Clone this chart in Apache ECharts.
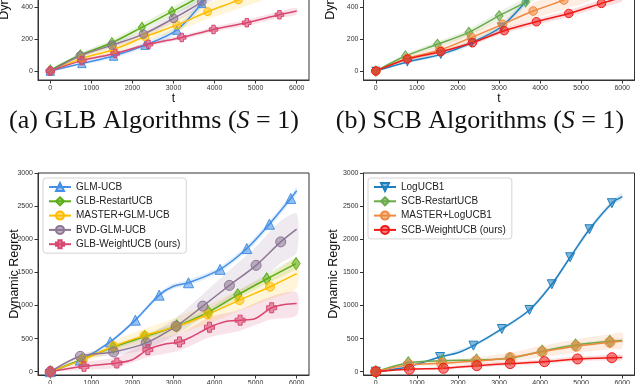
<!DOCTYPE html>
<html>
<head>
<meta charset="utf-8">
<script src="https://cdn.jsdelivr.net/npm/echarts@6/dist/echarts.min.js"></script>
<style>
  html, body { margin: 0; padding: 0; background: #fff; }
  #chart { width: 636px; height: 384px; }
</style>
</head>
<body>
<div id="chart"></div>
<script>
// ---- tick labels ----
const tTicks = [0, 1000, 2000, 3000, 4000, 5000, 6000];
const topYTicks = [0, 200, 400, 600, 800, 1000, 1200];
const botYTicks = [0, 500, 1000, 1500, 2000, 2500, 3000];

const glbNames = ["GLM-UCB", "GLB-RestartUCB", "MASTER+GLM-UCB", "BVD-GLM-UCB", "GLB-WeightUCB (ours)"];
const scbNames = ["LogUCB1", "SCB-RestartUCB", "MASTER+LogUCB1", "SCB-WeightUCB (ours)"];

// ---- (a) GLB, top row: markers [t, regret], extra curve points, band [t, lo, hi] ----
const aGlm = [[0, 0], [770, 48], [1540, 94], [2310, 162], [3080, 256], [3690, 423]];
const aGlmPath = [[4100, 560]];
const aGlmBand = [[0, 0, 0], [770, 38, 58], [1540, 80, 108], [2310, 145, 180], [3080, 232, 280], [3690, 395, 450], [4100, 525, 595]];
const aRestart = [[0, 6], [730, 100], [1500, 177], [2230, 273], [2960, 371]];
const aRestartPath = [[3490, 444], [4000, 530]];
const aRestartBand = [[0, 0, 10], [730, 85, 115], [1500, 158, 196], [2230, 250, 296], [2960, 345, 397], [3490, 415, 473], [4000, 498, 562]];
const aMaster = [[0, 0], [770, 79], [1540, 135], [2310, 215], [3080, 287], [3830, 371], [4580, 444]];
const aMasterPath = [[5300, 530]];
const aMasterBand = [[0, 0, 0], [770, 62, 96], [1540, 110, 160], [2310, 185, 245], [3080, 250, 325], [3830, 325, 420], [4580, 390, 500], [5300, 465, 595]];
const aBvd = [[0, 0], [730, 96], [1500, 162], [2270, 231], [3000, 329], [3690, 433]];
const aBvdPath = [[4200, 530]];
const aBvdBand = [[0, 0, 0], [730, 84, 108], [1500, 145, 180], [2270, 210, 252], [3000, 302, 356], [3690, 400, 466], [4200, 490, 570]];
const aWeight = [[0, 0], [770, 65], [1580, 110], [2390, 167], [3200, 210], [3975, 260], [4785, 302], [5580, 352]];
const aWeightPath = [[6000, 375]];
const aWeightBand = [[0, 0, 0], [770, 58, 72], [1580, 100, 120], [2390, 155, 179], [3200, 196, 224], [3975, 244, 276], [4785, 284, 320], [5580, 332, 372], [6000, 354, 396]];

// ---- (b) SCB, top row ----
const bLog = [[0, 0], [770, 57], [1583, 104], [2330, 177], [3060, 277], [3670, 440]];
const bLogPath = [[4000, 545]];
const bLogBand = [[0, 0, 0], [770, 48, 66], [1583, 92, 116], [2330, 162, 192], [3060, 258, 296], [3670, 415, 465], [4000, 515, 575]];
const bRestart = [[0, 0], [722, 94], [1500, 167], [2265, 242], [3004, 346], [3650, 432]];
const bRestartPath = [[4100, 525]];
const bRestartBand = [[0, 0, 0], [722, 82, 106], [1500, 150, 184], [2265, 222, 262], [3004, 322, 370], [3650, 405, 460], [4100, 495, 555]];
const bMaster = [[0, 0], [770, 79], [1560, 131], [2330, 210], [3084, 292], [3832, 375], [4580, 444]];
const bMasterPath = [[5300, 525]];
const bMasterBand = [[0, 0, 0], [770, 64, 94], [1560, 108, 156], [2330, 180, 242], [3084, 255, 330], [3832, 325, 425], [4580, 385, 505], [5300, 455, 600]];
const bWeight = [[0, 0], [770, 75], [1583, 121], [2353, 177], [3126, 252], [3912, 308], [4700, 360], [5495, 423]];
const bWeightPath = [[6000, 462]];
const bWeightBand = [[0, 0, 0], [770, 66, 84], [1583, 110, 132], [2353, 164, 190], [3126, 236, 268], [3912, 290, 326], [4700, 340, 380], [5495, 400, 446], [6000, 437, 487]];

// ---- (c) GLB, bottom row ----
const cGlm = [[0, 0], [730, 175], [1460, 450], [2070, 778], [2650, 1156], [3365, 1343], [4135, 1545], [4785, 1859], [5335, 2227], [5855, 2616]];
const cGlmPath = [[3000, 1290], [6000, 2732]];
const cGlmBand = [[0, 0, 0], [730, 160, 190], [1460, 425, 475], [2070, 750, 810], [2650, 1120, 1192], [3000, 1250, 1330], [3365, 1300, 1385], [4135, 1500, 1590], [4785, 1810, 1910], [5335, 2175, 2280], [5855, 2560, 2672], [6000, 2675, 2790]];
const cRestart = [[0, 0], [765, 185], [1530, 370], [2300, 530], [3080, 690], [3850, 900], [4565, 1160], [5270, 1400], [5985, 1632]];
const cRestartPath = [];
const cRestartBand = [[0, 0, 0], [765, 165, 205], [1530, 340, 400], [2300, 495, 570], [3080, 650, 735], [3850, 850, 950], [4565, 1100, 1220], [5270, 1330, 1470], [6000, 1560, 1720]];
const cMaster = [[0, 0], [795, 182], [1540, 384], [2295, 545], [3065, 680], [3835, 864], [4606, 1081], [5351, 1283]];
const cMasterPath = [[6000, 1480]];
const cMasterBand = [[0, 0, 0], [795, 140, 230], [1540, 300, 470], [2295, 440, 650], [3065, 560, 820], [3835, 720, 1010], [4606, 920, 1240], [5351, 1090, 1460], [6000, 1260, 1700]];
const cBvd = [[0, 0], [730, 232], [1540, 298], [2335, 435], [3065, 687], [3714, 990], [4362, 1303], [5011, 1606], [5612, 1960]];
const cBvdPath = [[6000, 2152]];
const cBvdBand = [[0, 0, 0], [730, 200, 265], [1540, 240, 360], [2335, 340, 540], [3065, 560, 820], [3714, 820, 1170], [4362, 1080, 1530], [5011, 1320, 1890], [5612, 1640, 2280], [6000, 1800, 2390]];
const cWeight = [[0, 0], [820, 81], [1620, 131], [2375, 333], [3146, 449], [3876, 671], [4622, 778], [5391, 965]];
const cWeightPath = [[2000, 180], [2750, 410], [3450, 530], [4250, 755], [4980, 800], [5700, 1015], [6000, 1030]];
const cWeightBand = [[0, 0, 0], [820, 30, 140], [1620, 60, 220], [2375, 220, 450], [3146, 320, 580], [3876, 520, 820], [4622, 620, 940], [5391, 790, 1140], [6000, 850, 1200]];

// ---- (d) SCB, bottom row ----
const dLog = [[0, 0], [787, 76], [1566, 222], [2378, 393], [3069, 645], [3742, 932], [4287, 1320], [4733, 1728], [5204, 2151], [5749, 2544]];
const dLogPath = [[2000, 285], [6000, 2644]];
const dLogBand = [[0, 0, 0], [787, 66, 86], [1566, 205, 240], [2378, 372, 414], [3069, 620, 670], [3742, 902, 962], [4287, 1285, 1355], [4733, 1690, 1766], [5204, 2110, 2192], [5749, 2500, 2588], [6000, 2598, 2690]];
const dRestart = [[0, 0], [790, 135], [1615, 166], [2451, 177], [3264, 202], [4051, 310], [4863, 403], [5700, 458]];
const dRestartPath = [[6000, 470]];
const dRestartBand = [[0, 0, 0], [790, 120, 150], [1615, 150, 182], [2451, 160, 195], [3264, 184, 222], [4051, 290, 332], [4863, 380, 428], [5700, 432, 486], [6000, 442, 498]];
const dMaster = [[0, 0], [800, 105], [1600, 127], [2440, 161], [3272, 212], [4050, 300], [4880, 385], [5700, 445]];
const dMasterPath = [[6000, 465]];
const dMasterBand = [[0, 0, 0], [800, 80, 130], [1600, 95, 165], [2440, 115, 215], [3272, 150, 285], [4050, 220, 390], [4880, 290, 490], [5700, 335, 565], [6000, 350, 590]];
const dWeight = [[0, 0], [819, 36], [1648, 51], [2460, 91], [3272, 122], [4108, 151], [4912, 192], [5749, 211]];
const dWeightPath = [[6000, 213]];
const dWeightBand = [[0, 0, 0], [819, 22, 50], [1648, 32, 72], [2460, 66, 118], [3272, 94, 152], [4108, 120, 184], [4912, 158, 228], [5749, 172, 252], [6000, 172, 256]];

// ---- styles ----
const SANS = "Liberation Sans";
const SERIF = "Liberation Serif";
const plusPath = "path://M3,0h4v3h3v4h-3v3h-4v-3h-3v-4h3z";
const glbStyle = [
  { color: "#4590e6", symbol: "triangle", size: 10 },
  { color: "#5cae18", symbol: "diamond", size: [8, 12] },
  { color: "#ffbd00", symbol: "circle", size: 9 },
  { color: "#8d7593", symbol: "circle", size: 10 },
  { color: "#d9466f", symbol: plusPath, size: 10 }
];
const scbStyle = [
  { color: "#1f7fbf", symbol: "triangle", size: 9, rotate: 180 },
  { color: "#6aaa4b", symbol: "diamond", size: [9, 12] },
  { color: "#f0883e", symbol: "circle", size: 10 },
  { color: "#ee1a1a", symbol: "circle", size: 10 }
];

const hexA = (hex, a) => {
  const n = parseInt(hex.slice(1), 16);
  return "rgba(" + (n >> 16) + "," + ((n >> 8) & 255) + "," + (n & 255) + "," + a + ")";
};

const series = [];
// 一条曲线 + 置信区间
const addAlgo = (g, name, marks, path, band, st, small) => {
  const pts = marks.map(p => ({ value: p }))
    .concat(path.map(p => ({ value: p, symbol: "none" })))
    .sort((a, b) => a.value[0] - b.value[0]);
  const scale = small ? 0.85 : 1;
  const size = Array.isArray(st.size) ? st.size.map(s => s * scale) : st.size * scale;
  series.push({
    type: "custom",
    xAxisIndex: g,
    yAxisIndex: g,
    data: band,
    encode: { x: 0, y: 1 },
    silent: true,
    z: 1,
    renderItem: (params, api) => {
      if (params.dataIndex !== 0) return null;
      const up = band.map(b => api.coord([b[0], b[2]]));
      const lo = band.map(b => api.coord([b[0], b[1]])).reverse();
      return {
        type: "polygon",
        shape: { points: up.concat(lo), smooth: 0.25 },
        style: { fill: hexA(st.color, 0.15) }
      };
    }
  });
  series.push({
    type: "line",
    name: name,
    xAxisIndex: g,
    yAxisIndex: g,
    data: pts,
    smooth: 0.3,
    symbol: st.symbol,
    symbolSize: size,
    symbolRotate: st.rotate || 0,
    showSymbol: true,
    showAllSymbol: true,
    lineStyle: { color: st.color, width: 1.5 },
    itemStyle: { color: hexA(st.color, 0.55), borderColor: st.color, borderWidth: 1 },
    emphasis: { disabled: true },
    z: 3
  });
};

// bottom panels first so the legend takes their icons
addAlgo(2, glbNames[0], cGlm, cGlmPath, cGlmBand, glbStyle[0]);
addAlgo(2, glbNames[1], cRestart, cRestartPath, cRestartBand, glbStyle[1]);
addAlgo(2, glbNames[2], cMaster, cMasterPath, cMasterBand, glbStyle[2]);
addAlgo(2, glbNames[3], cBvd, cBvdPath, cBvdBand, glbStyle[3]);
addAlgo(2, glbNames[4], cWeight, cWeightPath, cWeightBand, glbStyle[4]);
addAlgo(3, scbNames[0], dLog, dLogPath, dLogBand, scbStyle[0]);
addAlgo(3, scbNames[1], dRestart, dRestartPath, dRestartBand, scbStyle[1]);
addAlgo(3, scbNames[2], dMaster, dMasterPath, dMasterBand, scbStyle[2]);
addAlgo(3, scbNames[3], dWeight, dWeightPath, dWeightBand, scbStyle[3]);
addAlgo(0, glbNames[0], aGlm, aGlmPath, aGlmBand, glbStyle[0], true);
addAlgo(0, glbNames[1], aRestart, aRestartPath, aRestartBand, glbStyle[1], true);
addAlgo(0, glbNames[2], aMaster, aMasterPath, aMasterBand, glbStyle[2], true);
addAlgo(0, glbNames[3], aBvd, aBvdPath, aBvdBand, glbStyle[3], true);
addAlgo(0, glbNames[4], aWeight, aWeightPath, aWeightBand, glbStyle[4], true);
addAlgo(1, scbNames[0], bLog, bLogPath, bLogBand, scbStyle[0], true);
addAlgo(1, scbNames[1], bRestart, bRestartPath, bRestartBand, scbStyle[1], true);
addAlgo(1, scbNames[2], bMaster, bMasterPath, bMasterBand, scbStyle[2], true);
addAlgo(1, scbNames[3], bWeight, bWeightPath, bWeightBand, scbStyle[3], true);

// grids: 0 top-left, 1 top-right (cropped at the top), 2 bottom-left, 3 bottom-right
const grids = [
  { left: 38, top: -131, width: 271, height: 211 },
  { left: 363.5, top: -131, width: 271, height: 211 },
  { left: 38, top: 173, width: 271, height: 202 },
  { left: 363.5, top: 173, width: 271, height: 202 }
];

const plain = v => String(v);

const makeX = (g, top) => ({
  gridIndex: g,
  type: "value",
  min: -300,
  max: 6300,
  name: top ? "t" : "",
  nameLocation: "middle",
  nameGap: 13,
  nameMoveOverlap: false,
  nameTextStyle: { fontFamily: SANS, fontSize: 12, color: "#111" },
  axisLine: { show: true, onZero: false, lineStyle: { color: "#333", width: 1 } },
  axisTick: { show: true, length: 3.5, customValues: tTicks, lineStyle: { color: "#333" } },
  axisLabel: { customValues: tTicks, formatter: plain, fontFamily: SANS, fontSize: 7, color: "#333", margin: 5 },
  splitLine: { show: false }
});

const makeY = (g, top, gap) => ({
  gridIndex: g,
  type: "value",
  min: top ? -56 : -50,
  max: top ? 1263 : 3000,
  // the top panels are cropped, their label is drawn as a graphic below
  name: top ? "" : "Dynamic Regret",
  nameLocation: "middle",
  nameGap: gap,
  nameMoveOverlap: false,
  nameTextStyle: { fontFamily: SANS, fontSize: 12.5, color: "#111" },
  axisLine: { show: true, onZero: false, lineStyle: { color: "#333", width: 1 } },
  axisTick: { show: true, length: 3.5, customValues: top ? topYTicks : botYTicks, lineStyle: { color: "#333" } },
  axisLabel: { customValues: top ? topYTicks : botYTicks, formatter: plain, fontFamily: SANS, fontSize: 7, color: "#333", margin: 5 },
  splitLine: { show: false }
});

const legendBase = {
  orient: "vertical",
  top: 178,
  itemWidth: 22,
  itemHeight: 10,
  itemGap: 4.3,
  padding: [4, 6, 4, 5],
  backgroundColor: "rgba(255,255,255,0.85)",
  borderColor: "#d4d4d4",
  borderWidth: 1,
  borderRadius: 3,
  selectedMode: false,
  textStyle: { fontFamily: SANS, fontSize: 10, color: "#222", lineHeight: 10 }
};

const capRich = { i: { fontStyle: "italic", fontFamily: SERIF, fontSize: 26 } };
const caption = (x, text) => ({
  type: "text",
  x: x,
  y: 121,
  style: {
    text: text,
    font: "26px " + SERIF,
    fill: "#111",
    align: "center",
    verticalAlign: "middle",
    rich: capRich
  }
});
const topYName = x => ({
  type: "text",
  x: x,
  y: -25,
  rotation: Math.PI / 2,
  style: {
    text: "Dynamic Regret",
    font: "12.5px " + SANS,
    fill: "#111",
    align: "center",
    verticalAlign: "middle"
  }
});

const chart = echarts.init(document.getElementById("chart"), null, { renderer: "canvas" });
chart.setOption({
  animation: false,
  backgroundColor: "#fff",
  grid: grids.map(g => Object.assign({
    show: true, borderColor: "#333", borderWidth: 1, backgroundColor: "transparent",
    containLabel: false, outerBoundsMode: "none"
  }, g)),
  xAxis: [makeX(0, true), makeX(1, true), makeX(2, false), makeX(3, false)],
  yAxis: [makeY(0, true, 0), makeY(1, true, 0), makeY(2, false, 17), makeY(3, false, 23)],
  legend: [
    Object.assign({}, legendBase, { data: glbNames, left: 43 }),
    Object.assign({}, legendBase, { data: scbNames, left: 368 })
  ],
  graphic: [
    caption(154, "(a) GLB Algorithms ({i|S} = 1)"),
    caption(480, "(b) SCB Algorithms ({i|S} = 1)"),
    topYName(5),
    topYName(331)
  ],
  series: series
});
</script>
</body>
</html>
